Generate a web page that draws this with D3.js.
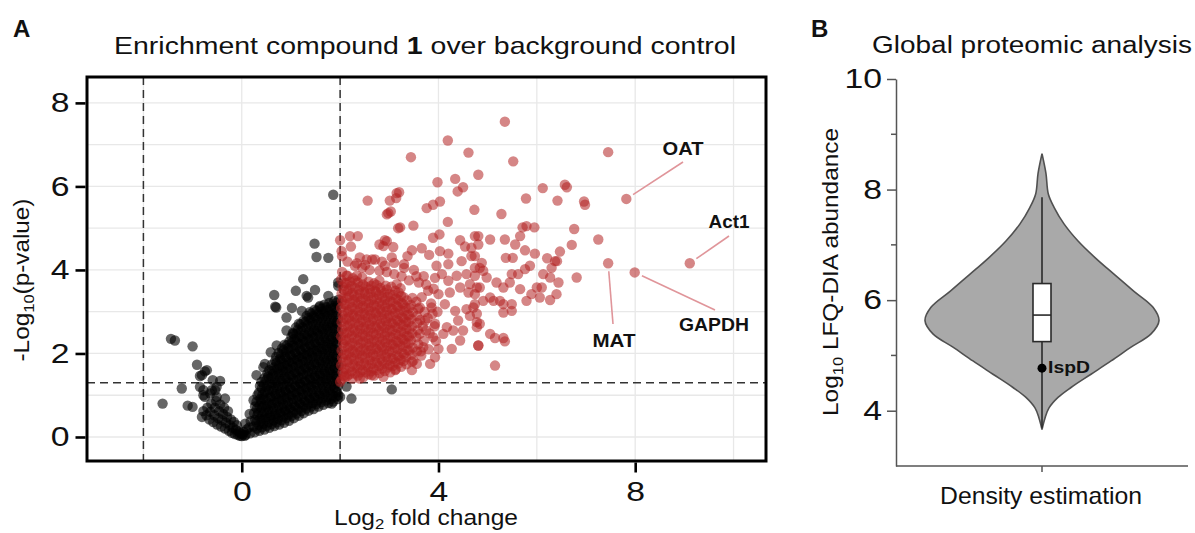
<!DOCTYPE html>
<html>
<head>
<meta charset="utf-8">
<script src="https://cdn.jsdelivr.net/npm/d3@7"></script>
<style>
  body { margin: 0; background: #fff; }
  svg { display: block; font-family: "Liberation Sans", Arial, sans-serif; }
</style>
</head>
<body>
<svg id="chart" width="1195" height="533"></svg>
<script>
// ---------- Panel A: volcano plot data ----------
const xTicksA = [0, 4, 8];
const yTicksA = [0, 2, 4, 6, 8];
const xGridA = [-2, 0, 2, 4, 6, 8, 10];
const yGridA = [0, 1, 2, 3, 4, 5, 6, 7, 8];
const foldCutoffs = [-2, 2];
const pValueCutoff = 1.3;

// proteins below the enrichment thresholds: [log2 fold change, -log10 p]
const backgroundProteins = [
  [1.86,5.80],[1.48,4.63],[1.52,4.31],[1.76,4.29],[1.25,3.78],[1.96,3.70],[0.66,3.40],[0.70,3.10],
  [1.10,3.50],[1.49,3.52],[1.35,3.34],[1.02,3.09],[0.91,2.86],[1.22,3.02],[1.32,3.38],[1.59,3.14],
  [1.76,3.38],[1.96,3.62],[0.68,3.12],
  [-1.44,2.35],[-1.36,2.31],[-1.00,2.17],[-0.91,1.73],[-0.75,1.57],[-0.85,1.46],[-0.59,1.36],
  [-0.44,1.34],[-1.22,1.16],[-1.61,0.80],[-1.10,0.75],[-1.00,0.72],[-0.78,1.12],[-0.61,1.12],
  [-0.51,1.20],[-0.75,0.96],[-0.81,0.48],[-0.71,1.60],[-0.81,1.48],[-0.85,1.20],[-0.64,1.04],
  [-0.54,1.12],[-0.51,0.96],[-0.34,0.92],[-0.78,1.00],
  [0.59,2.03],[0.44,1.67],[0.30,1.48],[1.83,0.80],[2.00,0.96],[0.71,2.19],[0.91,2.55],[1.05,2.47],
  [1.96,1.00],[2.13,1.21],[2.23,0.92],[3.05,1.14],[0.47,1.75],
  // left arm of the V
  [-0.78,0.62],[-0.72,0.52],[-0.70,0.70],[-0.66,0.42],[-0.64,0.60],[-0.62,0.80],[-0.58,0.36],
  [-0.56,0.52],[-0.55,0.70],[-0.52,0.86],[-0.50,0.30],[-0.48,0.45],[-0.46,0.62],[-0.44,0.78],
  [-0.42,0.25],[-0.40,0.40],[-0.38,0.55],[-0.36,0.70],[-0.34,0.20],[-0.32,0.34],[-0.30,0.48],
  [-0.28,0.62],[-0.26,0.15],[-0.24,0.28],[-0.22,0.42],[-0.20,0.10],[-0.18,0.22],[-0.16,0.36],
  [-0.14,0.07],[-0.12,0.17],[-0.10,0.28],[-0.08,0.05],[-0.06,0.13],[-0.04,0.03],[-0.02,0.09],
  [0.00,0.02],[0.02,0.06],[0.04,0.12],[0.06,0.03],
  // dense right arm
  [0.08,0.05],[0.10,0.18],[0.07,0.32],
  [0.17,0.09],[0.15,0.23],[0.18,0.38],[0.16,0.55],
  [0.26,0.11],[0.24,0.25],[0.27,0.41],[0.25,0.57],[0.27,0.73],[0.24,0.88],
  [0.36,0.15],[0.35,0.29],[0.37,0.44],[0.34,0.59],[0.36,0.75],[0.38,0.91],[0.35,1.06],[0.37,1.22],
  [0.46,0.18],[0.44,0.32],[0.47,0.47],[0.45,0.61],[0.46,0.77],[0.44,0.93],[0.47,1.09],[0.45,1.25],[0.46,1.41],
  [0.56,0.22],[0.55,0.36],[0.57,0.51],[0.54,0.66],[0.56,0.81],[0.58,0.97],[0.55,1.13],[0.57,1.29],[0.54,1.45],[0.56,1.60],
  [0.66,0.26],[0.65,0.40],[0.67,0.55],[0.64,0.71],[0.66,0.87],[0.68,1.03],[0.65,1.19],[0.67,1.35],[0.64,1.51],[0.66,1.67],[0.68,1.82],
  [0.76,0.30],[0.74,0.44],[0.77,0.59],[0.75,0.75],[0.76,0.91],[0.78,1.07],[0.74,1.23],[0.77,1.39],[0.75,1.55],[0.76,1.71],[0.78,1.87],[0.75,2.01],
  [0.86,0.34],[0.85,0.49],[0.87,0.64],[0.84,0.80],[0.86,0.96],[0.88,1.12],[0.85,1.28],[0.87,1.44],[0.84,1.60],[0.86,1.76],[0.88,1.92],[0.85,2.08],[0.87,2.21],
  [0.96,0.39],[0.95,0.54],[0.97,0.69],[0.94,0.85],[0.96,1.01],[0.98,1.17],[0.95,1.33],[0.97,1.49],[0.94,1.65],[0.96,1.81],[0.98,1.97],[0.95,2.13],[0.97,2.29],
  [1.06,0.45],[1.05,0.60],[1.07,0.75],[1.04,0.91],[1.06,1.07],[1.08,1.23],[1.05,1.39],[1.07,1.55],[1.04,1.71],[1.06,1.87],[1.08,2.03],[1.05,2.19],[1.07,2.35],[1.04,2.49],
  [1.16,0.51],[1.15,0.66],[1.17,0.81],[1.14,0.97],[1.16,1.13],[1.18,1.29],[1.15,1.45],[1.17,1.61],[1.14,1.77],[1.16,1.93],[1.18,2.09],[1.15,2.25],[1.17,2.41],[1.14,2.57],[1.16,2.71],
  [1.26,0.57],[1.25,0.72],[1.27,0.87],[1.24,1.03],[1.26,1.19],[1.28,1.35],[1.25,1.51],[1.27,1.67],[1.24,1.83],[1.26,1.99],[1.28,2.15],[1.25,2.31],[1.27,2.47],[1.24,2.63],[1.26,2.79],
  [1.36,0.63],[1.35,0.78],[1.37,0.93],[1.34,1.09],[1.36,1.25],[1.38,1.41],[1.35,1.57],[1.37,1.73],[1.34,1.89],[1.36,2.05],[1.38,2.21],[1.35,2.37],[1.37,2.53],[1.34,2.69],[1.36,2.85],[1.38,2.99],
  [1.46,0.67],[1.45,0.82],[1.47,0.98],[1.44,1.14],[1.46,1.30],[1.48,1.46],[1.45,1.62],[1.47,1.78],[1.44,1.94],[1.46,2.10],[1.48,2.26],[1.45,2.42],[1.47,2.58],[1.44,2.74],[1.46,2.90],[1.48,3.05],
  [1.56,0.73],[1.55,0.88],[1.57,1.04],[1.54,1.20],[1.56,1.36],[1.58,1.52],[1.55,1.68],[1.57,1.84],[1.54,2.00],[1.56,2.16],[1.58,2.32],[1.55,2.48],[1.57,2.64],[1.54,2.80],[1.56,2.96],[1.58,3.11],
  [1.66,0.77],[1.65,0.93],[1.67,1.09],[1.64,1.25],[1.66,1.41],[1.68,1.57],[1.65,1.73],[1.67,1.89],[1.64,2.05],[1.66,2.21],[1.68,2.37],[1.65,2.53],[1.67,2.69],[1.64,2.85],[1.66,3.01],[1.68,3.17],
  [1.76,0.81],[1.75,0.97],[1.77,1.13],[1.74,1.29],[1.76,1.45],[1.78,1.61],[1.75,1.77],[1.77,1.93],[1.74,2.09],[1.76,2.25],[1.78,2.41],[1.75,2.57],[1.77,2.73],[1.74,2.89],[1.76,3.05],[1.78,3.21],
  [1.86,0.85],[1.85,1.01],[1.87,1.17],[1.84,1.33],[1.86,1.49],[1.88,1.65],[1.85,1.81],[1.87,1.97],[1.84,2.13],[1.86,2.29],[1.88,2.45],[1.85,2.61],[1.87,2.77],[1.84,2.93],[1.86,3.09],[1.88,3.25],
  [1.95,0.91],[1.94,1.07],[1.96,1.23],[1.93,1.39],[1.95,1.55],[1.97,1.71],[1.94,1.87],[1.96,2.03],[1.93,2.19],[1.95,2.35],[1.97,2.51],[1.94,2.67],[1.96,2.83],[1.93,2.99],[1.95,3.15],[1.97,3.29],
  [0.31,0.20],[0.30,0.36],[0.32,0.52],[0.31,0.68],[0.30,0.84],[0.32,1.00],
  [0.41,0.23],[0.40,0.39],[0.42,0.54],[0.41,0.70],[0.40,0.85],[0.42,1.01],[0.41,1.17],[0.40,1.32],
  [0.51,0.27],[0.50,0.43],[0.52,0.58],[0.51,0.73],[0.50,0.89],[0.52,1.05],[0.51,1.21],[0.50,1.37],[0.52,1.52],
  [0.61,0.31],[0.60,0.47],[0.62,0.62],[0.61,0.78],[0.60,0.94],[0.62,1.10],[0.61,1.26],[0.60,1.42],[0.62,1.58],[0.61,1.73],
  [0.71,0.35],[0.70,0.51],[0.72,0.66],[0.71,0.82],[0.70,0.98],[0.72,1.14],[0.71,1.30],[0.70,1.46],[0.72,1.62],[0.71,1.78],[0.70,1.92],
  [0.81,0.40],[0.80,0.56],[0.82,0.71],[0.81,0.87],[0.80,1.03],[0.82,1.19],[0.81,1.35],[0.80,1.51],[0.82,1.67],[0.81,1.83],[0.80,1.98],[0.82,2.12],
  [0.91,0.45],[0.90,0.61],[0.92,0.76],[0.91,0.92],[0.90,1.08],[0.92,1.24],[0.91,1.40],[0.90,1.56],[0.92,1.72],[0.91,1.88],[0.90,2.04],[0.92,2.20],
  [1.01,0.50],[1.00,0.66],[1.02,0.82],[1.01,0.98],[1.00,1.14],[1.02,1.30],[1.01,1.46],[1.00,1.62],[1.02,1.78],[1.01,1.94],[1.00,2.10],[1.02,2.26],[1.01,2.40],
  [1.11,0.56],[1.10,0.72],[1.12,0.88],[1.11,1.04],[1.10,1.20],[1.12,1.36],[1.11,1.52],[1.10,1.68],[1.12,1.84],[1.11,2.00],[1.10,2.16],[1.12,2.32],[1.11,2.48],[1.10,2.62],
  [1.21,0.62],[1.20,0.78],[1.22,0.94],[1.21,1.10],[1.20,1.26],[1.22,1.42],[1.21,1.58],[1.20,1.74],[1.22,1.90],[1.21,2.06],[1.20,2.22],[1.22,2.38],[1.21,2.54],[1.20,2.70],
  [1.31,0.68],[1.30,0.84],[1.32,1.00],[1.31,1.16],[1.30,1.32],[1.32,1.48],[1.31,1.64],[1.30,1.80],[1.32,1.96],[1.31,2.12],[1.30,2.28],[1.32,2.44],[1.31,2.60],[1.30,2.76],[1.32,2.90],
  [1.41,0.73],[1.40,0.89],[1.42,1.05],[1.41,1.21],[1.40,1.37],[1.42,1.53],[1.41,1.69],[1.40,1.85],[1.42,2.01],[1.41,2.17],[1.40,2.33],[1.42,2.49],[1.41,2.65],[1.40,2.81],[1.42,2.96],
  [1.51,0.78],[1.50,0.94],[1.52,1.10],[1.51,1.26],[1.50,1.42],[1.52,1.58],[1.51,1.74],[1.50,1.90],[1.52,2.06],[1.51,2.22],[1.50,2.38],[1.52,2.54],[1.51,2.70],[1.50,2.86],[1.52,3.02],
  [1.61,0.83],[1.60,0.99],[1.62,1.15],[1.61,1.31],[1.60,1.47],[1.62,1.63],[1.61,1.79],[1.60,1.95],[1.62,2.11],[1.61,2.27],[1.60,2.43],[1.62,2.59],[1.61,2.75],[1.60,2.91],[1.62,3.07],
  [1.71,0.87],[1.70,1.03],[1.72,1.19],[1.71,1.35],[1.70,1.51],[1.72,1.67],[1.71,1.83],[1.70,1.99],[1.72,2.15],[1.71,2.31],[1.70,2.47],[1.72,2.63],[1.71,2.79],[1.70,2.95],[1.72,3.11],
  [1.81,0.91],[1.80,1.07],[1.82,1.23],[1.81,1.39],[1.80,1.55],[1.82,1.71],[1.81,1.87],[1.80,2.03],[1.82,2.19],[1.81,2.35],[1.80,2.51],[1.82,2.67],[1.81,2.83],[1.80,2.99],[1.82,3.15],
  [1.91,0.97],[1.90,1.13],[1.92,1.29],[1.91,1.45],[1.90,1.61],[1.92,1.77],[1.91,1.93],[1.90,2.09],[1.92,2.25],[1.91,2.41],[1.90,2.57],[1.92,2.73],[1.91,2.89],[1.90,3.05],[1.92,3.21]
];

// enriched proteins (log2 FC > 2, -log10 p > 1.3)
const enrichedProteins = [
  [2.03,1.38],[2.05,1.55],[2.02,1.72],[2.04,1.90],[2.03,2.07],[2.06,2.24],[2.02,2.41],[2.04,2.58],[2.03,2.75],[2.05,2.92],[2.02,3.09],[2.04,3.26],[2.03,3.43],[2.05,3.60],[2.02,3.77],[2.04,3.95],
  [2.14,1.45],[2.12,1.62],[2.15,1.80],[2.13,1.97],[2.16,2.14],[2.12,2.31],[2.14,2.48],[2.15,2.65],[2.13,2.82],[2.16,2.99],[2.12,3.16],[2.14,3.33],[2.15,3.50],[2.13,3.68],[2.15,3.86],
  [2.25,1.40],[2.24,1.57],[2.27,1.74],[2.23,1.91],[2.26,2.08],[2.25,2.25],[2.24,2.43],[2.27,2.60],[2.23,2.77],[2.26,2.94],[2.24,3.11],[2.27,3.28],[2.25,3.45],[2.23,3.62],[2.26,3.80],
  [2.36,1.47],[2.35,1.64],[2.38,1.81],[2.34,1.98],[2.37,2.15],[2.36,2.33],[2.35,2.50],[2.38,2.67],[2.34,2.84],[2.37,3.01],[2.36,3.18],[2.35,3.35],[2.38,3.52],[2.36,3.70],[2.34,3.86],
  [2.47,1.43],[2.46,1.60],[2.49,1.77],[2.45,1.95],[2.48,2.12],[2.47,2.29],[2.46,2.46],[2.49,2.63],[2.45,2.80],[2.48,2.97],[2.47,3.14],[2.46,3.31],[2.49,3.48],[2.47,3.65],[2.45,3.82],
  [2.58,1.50],[2.57,1.67],[2.60,1.84],[2.56,2.01],[2.59,2.18],[2.58,2.35],[2.57,2.52],[2.60,2.69],[2.56,2.86],[2.59,3.03],[2.58,3.20],[2.57,3.37],[2.60,3.54],[2.58,3.72],
  [2.69,1.47],[2.68,1.64],[2.71,1.81],[2.67,1.98],[2.70,2.15],[2.69,2.32],[2.68,2.49],[2.71,2.66],[2.67,2.83],[2.70,3.00],[2.69,3.17],[2.68,3.34],[2.71,3.51],[2.69,3.68],
  [2.80,1.53],[2.79,1.70],[2.82,1.87],[2.78,2.04],[2.81,2.21],[2.80,2.38],[2.79,2.55],[2.82,2.72],[2.78,2.89],[2.81,3.06],[2.80,3.23],[2.79,3.40],[2.82,3.57],[2.80,3.74],
  [2.91,1.58],[2.90,1.75],[2.93,1.92],[2.89,2.09],[2.92,2.26],[2.91,2.43],[2.90,2.60],[2.93,2.77],[2.89,2.94],[2.92,3.11],[2.91,3.28],[2.90,3.45],[2.93,3.62],
  [3.02,1.55],[3.01,1.72],[3.04,1.89],[3.00,2.06],[3.03,2.23],[3.02,2.40],[3.01,2.57],[3.04,2.74],[3.00,2.91],[3.03,3.08],[3.02,3.25],[3.01,3.42],[3.04,3.60],
  [3.13,1.62],[3.12,1.79],[3.15,1.96],[3.11,2.13],[3.14,2.30],[3.13,2.47],[3.12,2.64],[3.15,2.81],[3.11,2.98],[3.14,3.15],[3.13,3.32],[3.12,3.50],[3.15,3.66],
  [3.24,1.68],[3.23,1.85],[3.26,2.02],[3.22,2.19],[3.25,2.36],[3.24,2.53],[3.23,2.70],[3.26,2.87],[3.22,3.04],[3.25,3.21],[3.24,3.38],[3.23,3.56],
  [3.35,1.74],[3.34,1.91],[3.37,2.08],[3.33,2.25],[3.36,2.42],[3.35,2.59],[3.34,2.76],[3.37,2.93],[3.33,3.10],[3.36,3.27],
  [3.46,1.80],[3.45,1.97],[3.48,2.14],[3.44,2.31],[3.47,2.48],[3.46,2.65],[3.45,2.82],[3.48,2.99],[3.44,3.16],[3.47,3.33],
  [3.56,2.05],[3.59,2.22],[3.55,2.39],[3.58,2.56],[3.57,2.73],[3.56,2.90],[3.59,3.07],[3.55,3.24],
  [2.08,1.47],[2.09,1.64],[2.07,1.81],[2.08,1.98],[2.09,2.16],[2.07,2.33],[2.08,2.50],[2.09,2.67],[2.07,2.84],[2.08,3.01],[2.09,3.18],[2.07,3.35],[2.08,3.52],[2.09,3.69],
  [2.19,1.50],[2.20,1.67],[2.18,1.85],[2.19,2.02],[2.20,2.19],[2.18,2.36],[2.19,2.53],[2.20,2.70],[2.18,2.87],[2.19,3.04],[2.20,3.21],[2.18,3.38],[2.19,3.55],[2.20,3.72],
  [2.30,1.52],[2.31,1.69],[2.29,1.86],[2.30,2.03],[2.31,2.20],[2.29,2.37],[2.30,2.55],[2.31,2.72],[2.29,2.89],[2.30,3.06],[2.31,3.23],[2.29,3.40],[2.30,3.57],[2.31,3.75],
  [2.41,1.55],[2.42,1.72],[2.40,1.89],[2.41,2.06],[2.42,2.24],[2.40,2.41],[2.41,2.58],[2.42,2.75],[2.40,2.92],[2.41,3.09],[2.42,3.26],[2.40,3.43],[2.41,3.60],
  [2.52,1.55],[2.53,1.72],[2.51,1.90],[2.52,2.07],[2.53,2.24],[2.51,2.41],[2.52,2.58],[2.53,2.75],[2.51,2.92],[2.52,3.09],[2.53,3.26],[2.51,3.43],[2.52,3.60],
  [2.63,1.57],[2.64,1.75],[2.62,1.92],[2.63,2.09],[2.64,2.26],[2.62,2.43],[2.63,2.60],[2.64,2.77],[2.62,2.94],[2.63,3.11],[2.64,3.28],[2.62,3.45],[2.63,3.62],
  [2.74,1.60],[2.75,1.77],[2.73,1.94],[2.74,2.11],[2.75,2.28],[2.73,2.45],[2.74,2.62],[2.75,2.79],[2.73,2.96],[2.74,3.13],[2.75,3.30],[2.73,3.47],[2.74,3.64],
  [2.85,1.64],[2.86,1.81],[2.84,1.98],[2.85,2.15],[2.86,2.32],[2.84,2.49],[2.85,2.66],[2.86,2.83],[2.84,3.00],[2.85,3.17],[2.86,3.34],[2.84,3.51],
  [2.96,1.66],[2.97,1.83],[2.95,2.00],[2.96,2.17],[2.97,2.34],[2.95,2.51],[2.96,2.68],[2.97,2.85],[2.95,3.02],[2.96,3.19],[2.97,3.36],[2.95,3.53],
  [3.07,1.70],[3.08,1.87],[3.06,2.04],[3.07,2.21],[3.08,2.38],[3.06,2.55],[3.07,2.72],[3.08,2.89],[3.06,3.06],[3.07,3.23],[3.08,3.40],
  [3.18,1.76],[3.19,1.93],[3.17,2.10],[3.18,2.27],[3.19,2.44],[3.17,2.61],[3.18,2.78],[3.19,2.95],[3.17,3.12],[3.18,3.29],[3.19,3.46],
  [3.29,1.82],[3.30,1.99],[3.28,2.16],[3.29,2.33],[3.30,2.50],[3.28,2.67],[3.29,2.84],[3.30,3.01],[3.28,3.18],[3.29,3.35],
  [3.41,2.07],[3.39,2.24],[3.40,2.41],[3.41,2.58],[3.39,2.75],[3.40,2.92],[3.41,3.09],
  [3.65,1.95],[3.70,2.30],[3.68,2.65],[3.72,3.00],[3.66,3.35],[3.75,3.65],[3.80,2.10],[3.82,2.48],[3.78,2.85],
  [3.85,3.20],[3.90,3.55],[3.95,2.30],[3.92,2.65],[3.98,3.00],[3.70,3.85],[3.60,3.70],[3.55,3.85],[3.40,3.75],
  [3.25,3.85],[3.10,3.90],[2.95,3.95],[2.80,3.98],[2.60,4.00],[2.45,4.05],[2.30,4.10],[2.15,4.20],[2.40,4.30],
  [2.65,4.25],[2.85,4.20],[3.05,4.30],[3.30,4.05],[3.50,4.00],[3.62,3.10],[3.64,2.05],[3.75,2.55],[3.88,2.95],[3.63,2.80],
  [3.93,3.81],[4.07,3.90],[4.20,3.74],[4.37,3.86],[4.57,3.90],[4.74,3.86],
  [3.79,3.50],[4.00,3.42],[4.23,3.46],[4.44,3.58],[4.61,3.46],[4.78,3.58],
  [3.86,3.10],[4.13,3.18],[4.34,3.02],[4.57,3.06],[4.74,3.18],
  [3.73,2.79],[3.93,2.71],[4.17,2.63],[4.40,2.79],[4.64,2.90],[4.78,2.75],
  [3.62,2.47],[3.89,2.39],[4.10,2.47],[4.30,2.55],[4.50,2.55],
  [3.69,2.15],[4.00,2.11],[4.27,2.11],[4.44,2.31],[4.81,2.19],
  [3.49,1.83],[3.83,1.75],[3.93,1.91],[3.12,1.60],[3.46,1.60],[3.56,1.75],
  [2.40,1.40],[2.64,1.48],[2.88,1.44],[2.10,1.44],[2.00,1.32],
  [4.19,7.10],[3.44,6.70],[4.61,6.81],[3.98,6.10],[4.34,6.18],[4.50,5.98],[4.39,5.88],[4.81,6.28],
  [2.56,5.66],[3.20,5.86],[3.14,5.72],[3.01,5.66],[3.03,5.40],[2.95,5.33],[3.76,5.48],[3.89,5.56],
  [4.03,5.64],[4.73,5.44],[4.19,5.15],[3.22,5.02],[3.49,5.06],[2.20,4.81],[2.36,4.81],[2.00,4.71],
  [2.22,4.56],[2.91,4.71],[2.80,4.61],[3.08,4.55],[3.89,4.77],[4.02,4.85],[4.44,4.71],[4.54,4.56],
  [4.74,4.81],[3.46,4.47],[3.66,4.52],[3.81,4.36],[4.03,4.45],[4.20,4.39],[2.04,4.33],[2.34,4.16],
  [2.51,4.12],[2.71,4.25],[2.91,4.10],[3.10,4.17],[3.30,4.14],[3.37,4.33],[3.96,4.10],[4.20,4.14],
  [4.47,4.21],[4.67,4.33],[4.74,4.05],[2.13,3.86],[2.03,4.45],[2.98,5.36],[3.15,5.84],[3.18,5.00],
  [2.95,4.69],[2.88,4.57],[2.54,4.25],
  [5.35,7.55],[5.52,6.60],[7.45,6.82],[6.12,5.96],[6.57,6.04],[6.61,5.98],[5.78,5.71],[6.42,5.66],
  [6.96,5.64],[6.98,5.56],[5.28,5.34],[5.71,5.02],[5.79,5.05],[5.95,5.02],[6.76,4.98],[7.25,4.73],
  [5.66,4.81],[5.56,4.61],[5.35,4.73],[5.05,4.73],[4.81,4.81],[6.71,4.60],[6.47,4.44],[6.37,4.21],
  [6.21,4.28],[6.81,3.82],[5.96,4.39],[5.76,4.47],[5.51,4.29],[5.37,4.29],[4.81,4.61],[4.74,4.33],
  [4.67,4.53],[4.88,4.17],[4.91,3.98],[4.84,4.05],[5.86,4.10],[5.76,4.02],[5.62,3.90],[5.49,3.90],
  [5.45,3.70],[5.32,3.58],[5.18,3.70],[4.98,3.82],[4.84,3.58],[4.64,3.66],[6.13,3.90],[6.27,3.82],
  [6.30,4.05],[6.41,4.21],[6.44,3.70],[6.10,3.58],[6.00,3.58],[5.89,3.42],[5.79,3.26],[5.66,3.54],
  [5.49,3.18],[5.32,3.18],[5.25,3.26],[5.12,3.26],[5.05,3.34],[4.91,3.26],[4.74,3.42],[4.71,3.10],
  [4.78,2.95],[6.40,3.42],[6.27,3.28],[6.06,3.34],[5.49,3.02],[5.32,2.98],[4.84,2.71],[4.78,2.63],
  [4.81,2.19],[5.05,2.47],[5.15,2.37],[5.32,2.37],[5.35,2.29],[5.15,1.71]
];

// annotated proteins
const labelNames = ["OAT", "Act1", "MAT", "GAPDH"];
const labelFoldChange = [7.82, 9.11, 7.45, 7.99];
const labelPValue = [5.70, 4.16, 4.16, 3.94];

// ---------- Panel B: violin plot data ----------
const abundanceTicks = [4, 6, 8, 10];
const abundanceMinorTicks = [5, 7, 9];
const violinLevels  = [3.66, 3.87, 4.05, 4.24, 4.42, 4.66, 4.90, 5.15, 5.39, 5.63, 5.87, 6.16, 6.47, 6.77, 7.07, 7.38, 7.68, 7.92, 8.29, 8.65];
const violinDensity = [0.00, 0.026, 0.06, 0.137, 0.248, 0.419, 0.59, 0.761, 0.932, 1.00, 0.949, 0.786, 0.615, 0.453, 0.308, 0.188, 0.103, 0.054, 0.034, 0.00];
const boxQuartiles = [5.25, 5.73, 6.30];
const whiskerRange = [3.69, 7.86];
const ispdAbundance = 4.77;

// ---------- helpers ----------
const svg = d3.select("#chart");
const ink = "#111";
const FONT = "Liberation Sans, Arial, sans-serif";

// Text set at (x, y), optionally rotated, and widened along its reading
// direction so that it spans `span` pixels.
function wideText(x, y, opts, build) {
  const g = svg.append("g").attr("transform", `translate(${x},${y}) rotate(${opts.rotate || 0})`);
  const t = g.append("text").attr("text-anchor", opts.anchor || "middle")
    .attr("font-size", opts.size).attr("fill", opts.fill || ink)
    .attr("font-weight", opts.weight || "normal");
  build(t);
  const w = t.node().getBBox().width;
  t.attr("transform", `scale(${opts.span / w},1)`);
  return t;
}

// panel letters
svg.append("text").attr("x", 13).attr("y", 37).attr("font-size", 24).attr("font-weight", "bold").attr("fill", ink).text("A");
svg.append("text").attr("x", 811).attr("y", 37).attr("font-size", 24).attr("font-weight", "bold").attr("fill", ink).text("B");

// ===== Panel A =====
const A = { left: 87, right: 766, top: 77, bottom: 461 };
const xA = d3.scaleLinear().domain([-3.147, 10.66]).range([A.left, A.right]);
const yA = d3.scaleLinear().domain([-0.575, 8.62]).range([A.bottom, A.top]);

wideText(425, 54, { size: 24, span: 622 }, t => {
  t.append("tspan").text("Enrichment compound ");
  t.append("tspan").attr("font-weight", "bold").text("1");
  t.append("tspan").text(" over background control");
});

const gA = svg.append("g");
gA.append("rect").attr("x", A.left).attr("y", A.top).attr("width", A.right - A.left).attr("height", A.bottom - A.top).attr("fill", "#fff");

// grid
gA.selectAll(".gx").data(xGridA).join("line")
  .attr("x1", d => xA(d)).attr("x2", d => xA(d)).attr("y1", A.top).attr("y2", A.bottom)
  .attr("stroke", "#e8e8e8").attr("stroke-width", 1.3);
gA.selectAll(".gy").data(yGridA).join("line")
  .attr("x1", A.left).attr("x2", A.right).attr("y1", d => yA(d)).attr("y2", d => yA(d))
  .attr("stroke", "#e8e8e8").attr("stroke-width", 1.3);

// threshold lines
gA.selectAll(".vcut").data(foldCutoffs).join("line")
  .attr("x1", d => xA(d)).attr("x2", d => xA(d)).attr("y1", A.top).attr("y2", A.bottom)
  .attr("stroke", "#333").attr("stroke-width", 1.5).attr("stroke-dasharray", "8,5");
gA.append("line").attr("x1", A.left).attr("x2", A.right).attr("y1", yA(pValueCutoff)).attr("y2", yA(pValueCutoff))
  .attr("stroke", "#333").attr("stroke-width", 1.5).attr("stroke-dasharray", "8,5");

// points
const R = 5.2;
gA.append("g").selectAll("circle").data(backgroundProteins).join("circle")
  .attr("cx", d => xA(d[0])).attr("cy", d => yA(d[1])).attr("r", R)
  .attr("fill", "#000").attr("fill-opacity", 0.6);
gA.append("g").selectAll("circle").data(enrichedProteins).join("circle")
  .attr("cx", d => xA(d[0])).attr("cy", d => yA(d[1])).attr("r", R)
  .attr("fill", "#b22222").attr("fill-opacity", 0.55);

// annotated proteins with leader lines
const labelled = labelNames.map((n, i) => ({ name: n, fc: labelFoldChange[i], p: labelPValue[i] }));
const labelLayout = {
  OAT:   { tx: 683, ty: 155, lx: 683, ly: 162, span: 41 },
  Act1:  { tx: 729, ty: 228, lx: 729, ly: 236, span: 41 },
  MAT:   { tx: 614, ty: 347, lx: 613, ly: 324, span: 43 },
  GAPDH: { tx: 714, ty: 331, lx: 715, ly: 310, span: 70 }
};
gA.append("g").selectAll("circle").data(labelled).join("circle")
  .attr("cx", d => xA(d.fc)).attr("cy", d => yA(d.p)).attr("r", R)
  .attr("fill", "#b22222").attr("fill-opacity", 0.55);
function leaderStart(d) {
  const px = xA(d.fc), py = yA(d.p), L = labelLayout[d.name];
  const dx = L.lx - px, dy = L.ly - py, len = Math.hypot(dx, dy);
  return [px + dx / len * 8, py + dy / len * 8];
}
gA.append("g").selectAll("line").data(labelled).join("line")
  .attr("x1", d => leaderStart(d)[0]).attr("y1", d => leaderStart(d)[1])
  .attr("x2", d => labelLayout[d.name].lx).attr("y2", d => labelLayout[d.name].ly)
  .attr("stroke", "#e0959a").attr("stroke-width", 1.6);
labelled.forEach(d => {
  const L = labelLayout[d.name];
  wideText(L.tx, L.ty, { size: 18, weight: "bold", span: L.span }, t => t.text(d.name));
});

// frame
gA.append("rect").attr("x", A.left).attr("y", A.top).attr("width", A.right - A.left).attr("height", A.bottom - A.top)
  .attr("fill", "none").attr("stroke", "#000").attr("stroke-width", 3);

// axes
const TICK_WIDEN = 1.25;
function styleTickText(g, horizontal) {
  g.selectAll(".tick text").each(function () {
    const t = d3.select(this);
    t.attr("font-size", 27).attr("fill", ink).attr("font-family", FONT);
    if (horizontal) {
      const x = +t.attr("x");
      t.attr("x", 0).attr("transform", `translate(${x},0) scale(${TICK_WIDEN},1)`);
    } else {
      t.attr("transform", `scale(${TICK_WIDEN},1)`);
    }
  });
}
const axA_y = svg.append("g").attr("transform", `translate(${A.left - 1.5},0)`)
  .call(d3.axisLeft(yA).tickValues(yTicksA).tickSize(10).tickPadding(6).tickSizeOuter(0));
const axA_x = svg.append("g").attr("transform", `translate(0,${A.bottom + 1.5})`)
  .call(d3.axisBottom(xA).tickValues(xTicksA).tickSize(10).tickPadding(9).tickSizeOuter(0));
[axA_y, axA_x].forEach(g => {
  g.select(".domain").remove();
  g.selectAll(".tick line").attr("stroke", "#000").attr("stroke-width", 2.6);
});
styleTickText(axA_y, true);
styleTickText(axA_x, false);

// axis titles
wideText(29, 280, { size: 22, rotate: -90, span: 163 }, t => {
  t.append("tspan").text("-Log");
  t.append("tspan").attr("font-size", 15).attr("dy", 5).text("10");
  t.append("tspan").attr("dy", -5).text("(p-value)");
});
wideText(426, 525, { size: 22, span: 184 }, t => {
  t.append("tspan").text("Log");
  t.append("tspan").attr("font-size", 15).attr("dy", 4).text("2");
  t.append("tspan").attr("dy", -4).text(" fold change");
});

// ===== Panel B =====
const B = { left: 896, right: 1188, top: 79, bottom: 466, cx: 1042 };
const yB = d3.scaleLinear().domain([3, 10]).range([B.bottom, B.top]);
const wB = d3.scaleLinear().domain([0, 1]).range([0, 117]);

wideText(1032, 53, { size: 24, span: 320 }, t => t.text("Global proteomic analysis"));

const violinData = violinLevels.map((v, i) => ({ v, d: violinDensity[i] }));
const violinArea = d3.area()
  .y(d => yB(d.v)).x0(d => B.cx - wB(d.d)).x1(d => B.cx + wB(d.d))
  .curve(d3.curveCatmullRom.alpha(0.5));
svg.append("path").datum(violinData).attr("d", violinArea)
  .attr("fill", "#a9a9a9").attr("stroke", "#505050").attr("stroke-width", 1.6);

// whisker line
svg.append("line").attr("x1", B.cx).attr("x2", B.cx)
  .attr("y1", yB(whiskerRange[0])).attr("y2", yB(whiskerRange[1]))
  .attr("stroke", "#2a2a2a").attr("stroke-width", 1.6);
// box
svg.append("rect").attr("x", B.cx - 9).attr("y", yB(boxQuartiles[2]))
  .attr("width", 18).attr("height", yB(boxQuartiles[0]) - yB(boxQuartiles[2]))
  .attr("fill", "#fff").attr("stroke", "#2a2a2a").attr("stroke-width", 1.6);
svg.append("line").attr("x1", B.cx - 9).attr("x2", B.cx + 9)
  .attr("y1", yB(boxQuartiles[1])).attr("y2", yB(boxQuartiles[1]))
  .attr("stroke", "#2a2a2a").attr("stroke-width", 1.6);
// IspD marker
svg.append("circle").attr("cx", B.cx).attr("cy", yB(ispdAbundance)).attr("r", 4.5).attr("fill", "#000");
wideText(B.cx + 6, yB(ispdAbundance) + 5, { size: 16, weight: "bold", anchor: "start", span: 42 }, t => t.text("IspD"));

// axes
const axB_y = svg.append("g").attr("transform", `translate(${B.left},0)`)
  .call(d3.axisLeft(yB).tickValues(abundanceTicks).tickFormat(d3.format("d"))
    .tickSize(9).tickPadding(5).tickSizeOuter(0));
axB_y.select(".domain").attr("stroke", "#555").attr("stroke-width", 1.5);
axB_y.selectAll(".tick line").attr("stroke", "#555").attr("stroke-width", 1.5);
styleTickText(axB_y, true);
svg.append("g").selectAll("line").data(abundanceMinorTicks).join("line")
  .attr("x1", B.left - 5).attr("x2", B.left).attr("y1", d => yB(d)).attr("y2", d => yB(d))
  .attr("stroke", "#555").attr("stroke-width", 1.5);

svg.append("line").attr("x1", B.left).attr("x2", B.right).attr("y1", B.bottom).attr("y2", B.bottom)
  .attr("stroke", "#555").attr("stroke-width", 1.5);
svg.append("line").attr("x1", B.cx).attr("x2", B.cx).attr("y1", B.bottom).attr("y2", B.bottom + 6)
  .attr("stroke", "#555").attr("stroke-width", 1.5);

wideText(1041, 504, { size: 24, span: 202 }, t => t.text("Density estimation"));
wideText(838, 272, { size: 22, rotate: -90, span: 288 }, t => {
  t.append("tspan").text("Log");
  t.append("tspan").attr("font-size", 15).attr("dy", 5).text("10");
  t.append("tspan").attr("dy", -5).text(" LFQ-DIA abundance");
});
</script>
</body>
</html>
